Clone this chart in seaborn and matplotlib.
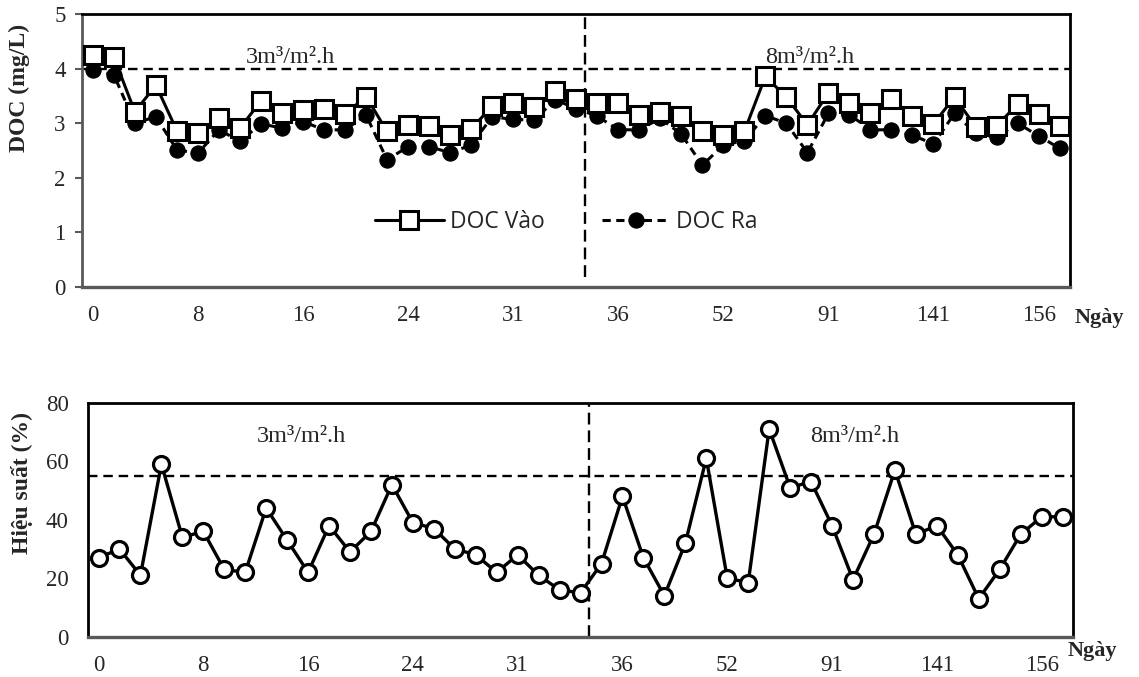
import numpy as np
import seaborn as sns
import matplotlib.pyplot as plt

# DOC values (mg/L), one per sampling point
doc_vao = [4.25, 4.21, 3.21, 3.70, 2.86, 2.82, 3.09, 2.91, 3.41, 3.18, 3.24, 3.27,
           3.17, 3.49, 2.85, 2.97, 2.95, 2.78, 2.89, 3.32, 3.37, 3.29, 3.60, 3.44,
           3.38, 3.38, 3.15, 3.21, 3.13, 2.85, 2.78, 2.85, 3.86, 3.48, 2.97, 3.56,
           3.37, 3.19, 3.44, 3.13, 2.99, 3.48, 2.94, 2.95, 3.35, 3.17, 2.95]
doc_ra = [3.97, 3.89, 3.00, 3.12, 2.51, 2.45, 2.88, 2.67, 2.99, 2.91, 3.03, 2.88,
          2.88, 3.15, 2.33, 2.57, 2.57, 2.46, 2.60, 3.12, 3.07, 3.06, 3.43, 3.27,
          3.13, 2.88, 2.88, 3.09, 2.80, 2.23, 2.60, 2.68, 3.14, 3.00, 2.46, 3.18,
          3.16, 2.88, 2.88, 2.78, 2.62, 3.18, 2.82, 2.74, 3.00, 2.77, 2.54]
# removal efficiency (%)
hieu_suat = [27, 30, 21, 59, 34, 36, 23, 22, 44, 33, 22, 38, 29, 36, 52, 39, 37,
             30, 28, 22, 28, 21, 16, 15, 25, 48, 27, 14, 32, 61, 20, 18.5, 71, 51,
             53, 38, 19.5, 35, 57, 35, 38, 28, 13, 23, 35, 41, 41]
ngay_labels = ['0', '8', '16', '24', '31', '36', '52', '91', '141', '156']

doc_limit = 4.0
eff_limit = 55
split_pos = 23.4   # change of loading rate between point 23 and 24

x = np.arange(len(doc_vao))
tick_pos = np.arange(0, len(doc_vao), 5)

sns.set_theme(style='white')
plt.rcParams['font.family'] = ['Liberation Serif', 'DejaVu Serif']

fig = plt.figure(figsize=(11.39, 6.77), dpi=100)
ax1 = fig.add_axes([0.0723, 0.5765, 0.8672, 0.4024])
ax2 = fig.add_axes([0.0773, 0.0595, 0.8648, 0.3456])

# ---- top: DOC in / out
ax1.axhline(doc_limit, color='black', lw=1.7, ls=(0, (4, 2.5)), zorder=1)
ax1.axvline(split_pos, ymin=0.035, color='black', lw=1.7, ls=(0, (5, 2.5)), zorder=1)
sns.lineplot(x=x, y=doc_ra, ax=ax1, color='black', lw=2.2, ls=(0, (2.7, 1.8)),
             marker='o', ms=11, mfc='black', mec='black', errorbar=None,
             label='DOC Ra', zorder=3)
sns.lineplot(x=x, y=doc_vao, ax=ax1, color='black', lw=2.2, marker='s', ms=12.5,
             mfc='white', mec='black', mew=2.2, errorbar=None,
             label='DOC Vào', zorder=4)
ax1.set_xlim(-0.5, 46.5)
ax1.set_ylim(0, 5)
ax1.set_yticks(range(0, 6))
ax1.set_xticks(tick_pos)
ax1.set_xticklabels(ngay_labels)
ax1.tick_params(axis='x', length=0, pad=13, labelsize=16.5)
ax1.tick_params(axis='y', direction='out', length=5, width=1.5, color='#595959',
                pad=7, labelsize=16.5, left=True)
ax1.set_xlabel('')
ax1.set_ylabel('DOC (mg/L)', fontsize=17, fontweight='bold')
ax1.yaxis.set_label_coords(-0.053, 0.73)
ax1.text(9.4, 4.2, '3m³/m².h', fontsize=17.5, ha='center', va='center')
ax1.text(34.1, 4.2, '8m³/m².h', fontsize=17.5, ha='center', va='center')
handles, labels = ax1.get_legend_handles_labels()
ax1.legend(handles[::-1], labels[::-1], loc='center', bbox_to_anchor=(0.49, 0.2375),
           ncol=2, frameon=False, prop={'family': 'Open Sans', 'size': 16.5},
           handlelength=3.0, handletextpad=0.25, columnspacing=2.5)

# ---- bottom: efficiency
ax2.axhline(eff_limit, color='black', lw=1.7, ls=(0, (4, 2.5)), zorder=1)
ax2.axvline(split_pos, color='black', lw=1.7, ls=(0, (5, 2.5)), zorder=1)
sns.lineplot(x=x, y=hieu_suat, ax=ax2, color='black', lw=2.4, marker='o', ms=11.5,
             mfc='white', mec='black', mew=2.3, errorbar=None, zorder=3)
ax2.set_xlim(-0.5, 46.5)
ax2.set_ylim(0, 80)
ax2.set_yticks(range(0, 81, 20))
ax2.set_xticks(tick_pos)
ax2.set_xticklabels(ngay_labels)
ax2.tick_params(axis='x', length=0, pad=13, labelsize=16.5)
ax2.tick_params(axis='y', length=0, pad=14, labelsize=16.5)
ax2.set_xlabel('')
ax2.set_ylabel('Hiệu suất (%)', fontsize=17, fontweight='bold')
ax2.yaxis.set_label_coords(-0.056, 0.657)
ax2.text(9.7, 68.3, '3m³/m².h', fontsize=17.5, ha='center', va='center')
ax2.text(36.1, 68.3, '8m³/m².h', fontsize=17.5, ha='center', va='center')

for ax in (ax1, ax2):
    for side in ('top', 'right', 'left', 'bottom'):
        ax.spines[side].set_visible(True)
        ax.spines[side].set_color('black')
        ax.spines[side].set_linewidth(2)
    ax.spines['bottom'].set_color('#595959')
    ax.spines['bottom'].set_linewidth(2.4)
ax1.spines['left'].set_color('#595959')

fig.text(0.965, 0.530, 'Ngày', fontsize=16, fontweight='bold', ha='center', va='center')
fig.text(0.9587, 0.0384, 'Ngày', fontsize=16, fontweight='bold', ha='center', va='center')

fig.savefig('out.png', dpi=100)
